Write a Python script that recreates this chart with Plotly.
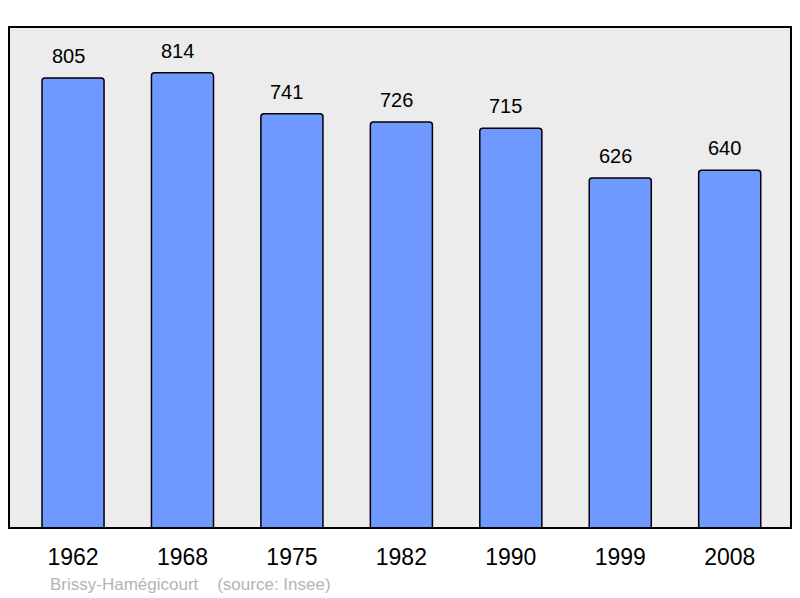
import plotly.graph_objects as go

years = ["1962", "1968", "1975", "1982", "1990", "1999", "2008"]
population = [805, 814, 741, 726, 715, 626, 640]
commune = "Brissy-Hamégicourt"
source = "(source: Insee)"

# page body has an 8px margin: figure occupies screen x 8..800, y 8..598
OFF = 8
W, H = 800 - OFF, 598 - OFF
PL, PR, PT, PB = 9, 791, 27, 528  # plot area in screen pixels
L, R, T, B = PL - OFF, 800 - PR, PT - OFF, 598 - PB

xs = list(range(len(years)))

fig = go.Figure()
fig.add_trace(go.Bar(
    x=xs, y=population, width=0.567,
    marker=dict(color="#7099ff", line=dict(color="black", width=1.5), cornerradius=3),
    hoverinfo="skip",
))

for i, v in zip(xs, population):
    fig.add_annotation(x=i, y=v, text=str(v), showarrow=False, yanchor="bottom",
                       yshift=9, xshift=-5, font=dict(size=20, color="black"))

ph = PB - PT
pw = PR - PL
fig.add_annotation(xref="paper", yref="paper", x=(48 - PL) / pw, y=-(584 - PB) / ph,
                   xanchor="left", yanchor="middle", showarrow=False,
                   text=commune + "\u00a0\u00a0\u00a0\u00a0" + source,
                   font=dict(size=17, color="#b4b4b4"))

fig.add_shape(type="rect", xref="paper", yref="paper", x0=0, y0=0, x1=1, y1=1,
              line=dict(color="black", width=2), layer="above")

fig.update_layout(
    width=W, height=H,
    margin=dict(l=L, r=R, t=T, b=B, pad=0),
    paper_bgcolor="white", plot_bgcolor="#ececec",
    font=dict(family="Liberation Sans, Arial, sans-serif", color="black"),
    showlegend=False,
    xaxis=dict(range=[-0.585, 6.56], showgrid=False, zeroline=False,
               tickmode="array", tickvals=xs, ticktext=years,
               ticks="", tickfont=dict(size=23), showline=False, ticklabelstandoff=13),
    yaxis=dict(range=[0, 896], showgrid=False, zeroline=False, showticklabels=False,
               ticks="", showline=False),
)

fig.write_html("out.html")
